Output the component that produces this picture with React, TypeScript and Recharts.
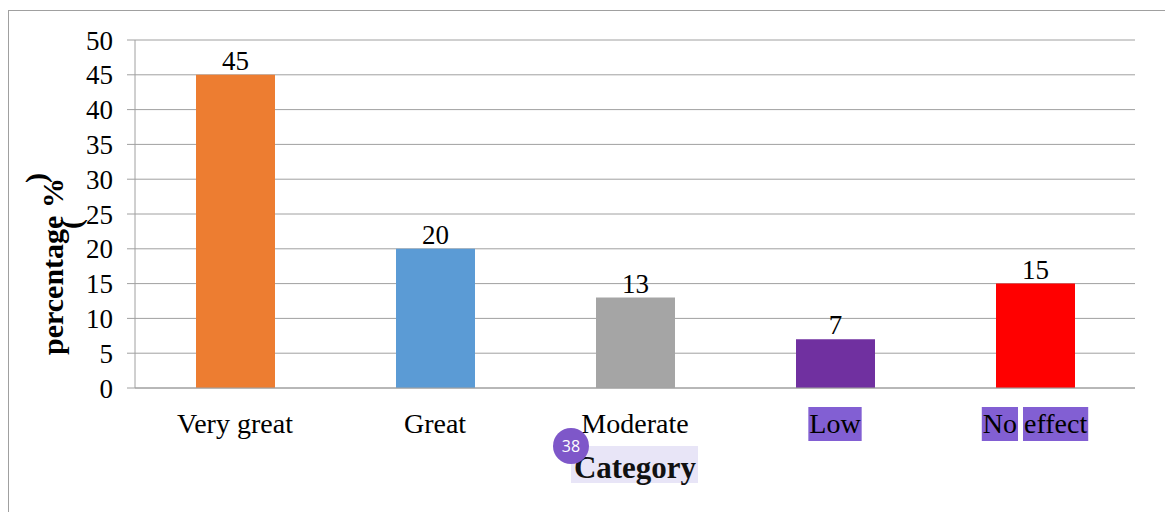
import React from 'react';
import { BarChart, Bar, XAxis, YAxis, CartesianGrid, Cell, LabelList } from 'recharts';

const categories = ['Very great', 'Great', 'Moderate', 'Low', 'No effect'];
const values = [45, 20, 13, 7, 15];
const barColors = ['#ED7D31', '#5B9BD5', '#A5A5A5', '#7030A0', '#FF0000'];
const yTicks = [0, 5, 10, 15, 20, 25, 30, 35, 40, 45, 50];
const highlightedLabels = ['Low', 'No effect'];
const xAxisTitle = 'Category';
const yAxisTitle = 'percentage %';
const badgeText = '38';

const data = categories.map((c, i) => ({ category: c, value: values[i] }));

const SERIF = '"Liberation Serif", "Times New Roman", serif';
const GRID = '#A0A0A0';

let ctx: CanvasRenderingContext2D | null = null;
function measure(text: string, font: string): number {
  if (!ctx) ctx = document.createElement('canvas').getContext('2d');
  if (!ctx) return text.length * 12;
  ctx.font = font;
  return ctx.measureText(text).width;
}

const XTick = (props: any) => {
  const { x, y, payload } = props;
  const label: string = payload.value;
  const base = y + 45;
  const font = '28px "Liberation Serif"';
  const rects: React.ReactNode[] = [];
  if (highlightedLabels.includes(label)) {
    const words = label.split(' ');
    const total = measure(label, font);
    const spaceW = measure(' ', font);
    let cur = x - total / 2;
    words.forEach((w, i) => {
      const ww = measure(w, font);
      rects.push(
        <rect key={i} x={cur - 1} y={base - 26} width={ww + 2} height={34} fill="#825FD3" />
      );
      cur += ww + spaceW;
    });
  }
  return (
    <g>
      {rects}
      <text x={x} y={base} textAnchor="middle" fontSize={28} fontFamily={SERIF} fill="#000">
        {label}
      </text>
    </g>
  );
};

export default function App() {
  return (
    <div style={{ position: 'fixed', left: 0, top: 0, width: 1165, height: 512, overflow: 'hidden', background: '#fff' }}>
      <div
        style={{
          position: 'absolute',
          left: 8,
          top: 10,
          width: 1300,
          height: 700,
          borderLeft: `1px solid ${GRID}`,
          borderTop: `1px solid ${GRID}`,
        }}
      />
      <div style={{ position: 'absolute', left: 9, top: 11 }}>
        <BarChart
          width={1156}
          height={501}
          data={data}
          margin={{ top: 29, right: 30, bottom: 0, left: 0 }}
          barCategoryGap={0}
        >
          <CartesianGrid vertical={false} stroke={GRID} strokeWidth={1} />
          <XAxis
            dataKey="category"
            height={124}
            tickLine={false}
            tickSize={0}
            tickMargin={0}
            axisLine={{ stroke: GRID }}
            tick={<XTick />}
            interval={0}
          />
          <YAxis
            width={126}
            domain={[0, 50]}
            ticks={yTicks}
            interval={0}
            tickSize={8}
            tickMargin={14}
            axisLine={{ stroke: GRID }}
            tickLine={{ stroke: GRID }}
            tick={{ fontSize: 27, fontFamily: SERIF, fill: '#000' }}
          />
          <Bar dataKey="value" barSize={79} isAnimationActive={false}>
            {data.map((d, i) => (
              <Cell key={d.category} fill={barColors[i]} />
            ))}
            <LabelList dataKey="value" position="top" offset={5} fill="#000" fontSize={27} fontFamily={SERIF} />
          </Bar>
        </BarChart>
      </div>
      <svg
        width={1165}
        height={512}
        style={{ position: 'absolute', left: 0, top: 0, pointerEvents: 'none' }}
      >
        <text
          transform="translate(63,355) rotate(-90)"
          fontSize={30}
          fontWeight="bold"
          fontFamily={SERIF}
          fill="#000"
        >
          {yAxisTitle}
        </text>
        <text
          transform="translate(35,178) rotate(-90)"
          fontSize={30}
          fontWeight="bold"
          fontFamily={SERIF}
          textAnchor="middle"
          dominantBaseline="central"
          fill="#000"
        >
          )
        </text>
        <text
          transform="translate(70,224) rotate(-90)"
          fontSize={30}
          fontWeight="bold"
          fontFamily={SERIF}
          textAnchor="middle"
          dominantBaseline="central"
          fill="#000"
        >
          (
        </text>
        <rect x={571} y={446} width={127} height={37} fill="#E8E5F7" />
        <text x={635} y={478} textAnchor="middle" fontSize={31} fontWeight="bold" fontFamily={SERIF} fill="#111">
          {xAxisTitle}
        </text>
        <circle cx={571} cy={446} r={18} fill="#7E57C9" />
        <text
          x={571}
          y={446}
          textAnchor="middle"
          dominantBaseline="central"
          fontSize={16}
          fontFamily='"Open Sans", sans-serif'
          fill="#fff"
        >
          {badgeText}
        </text>
      </svg>
    </div>
  );
}
